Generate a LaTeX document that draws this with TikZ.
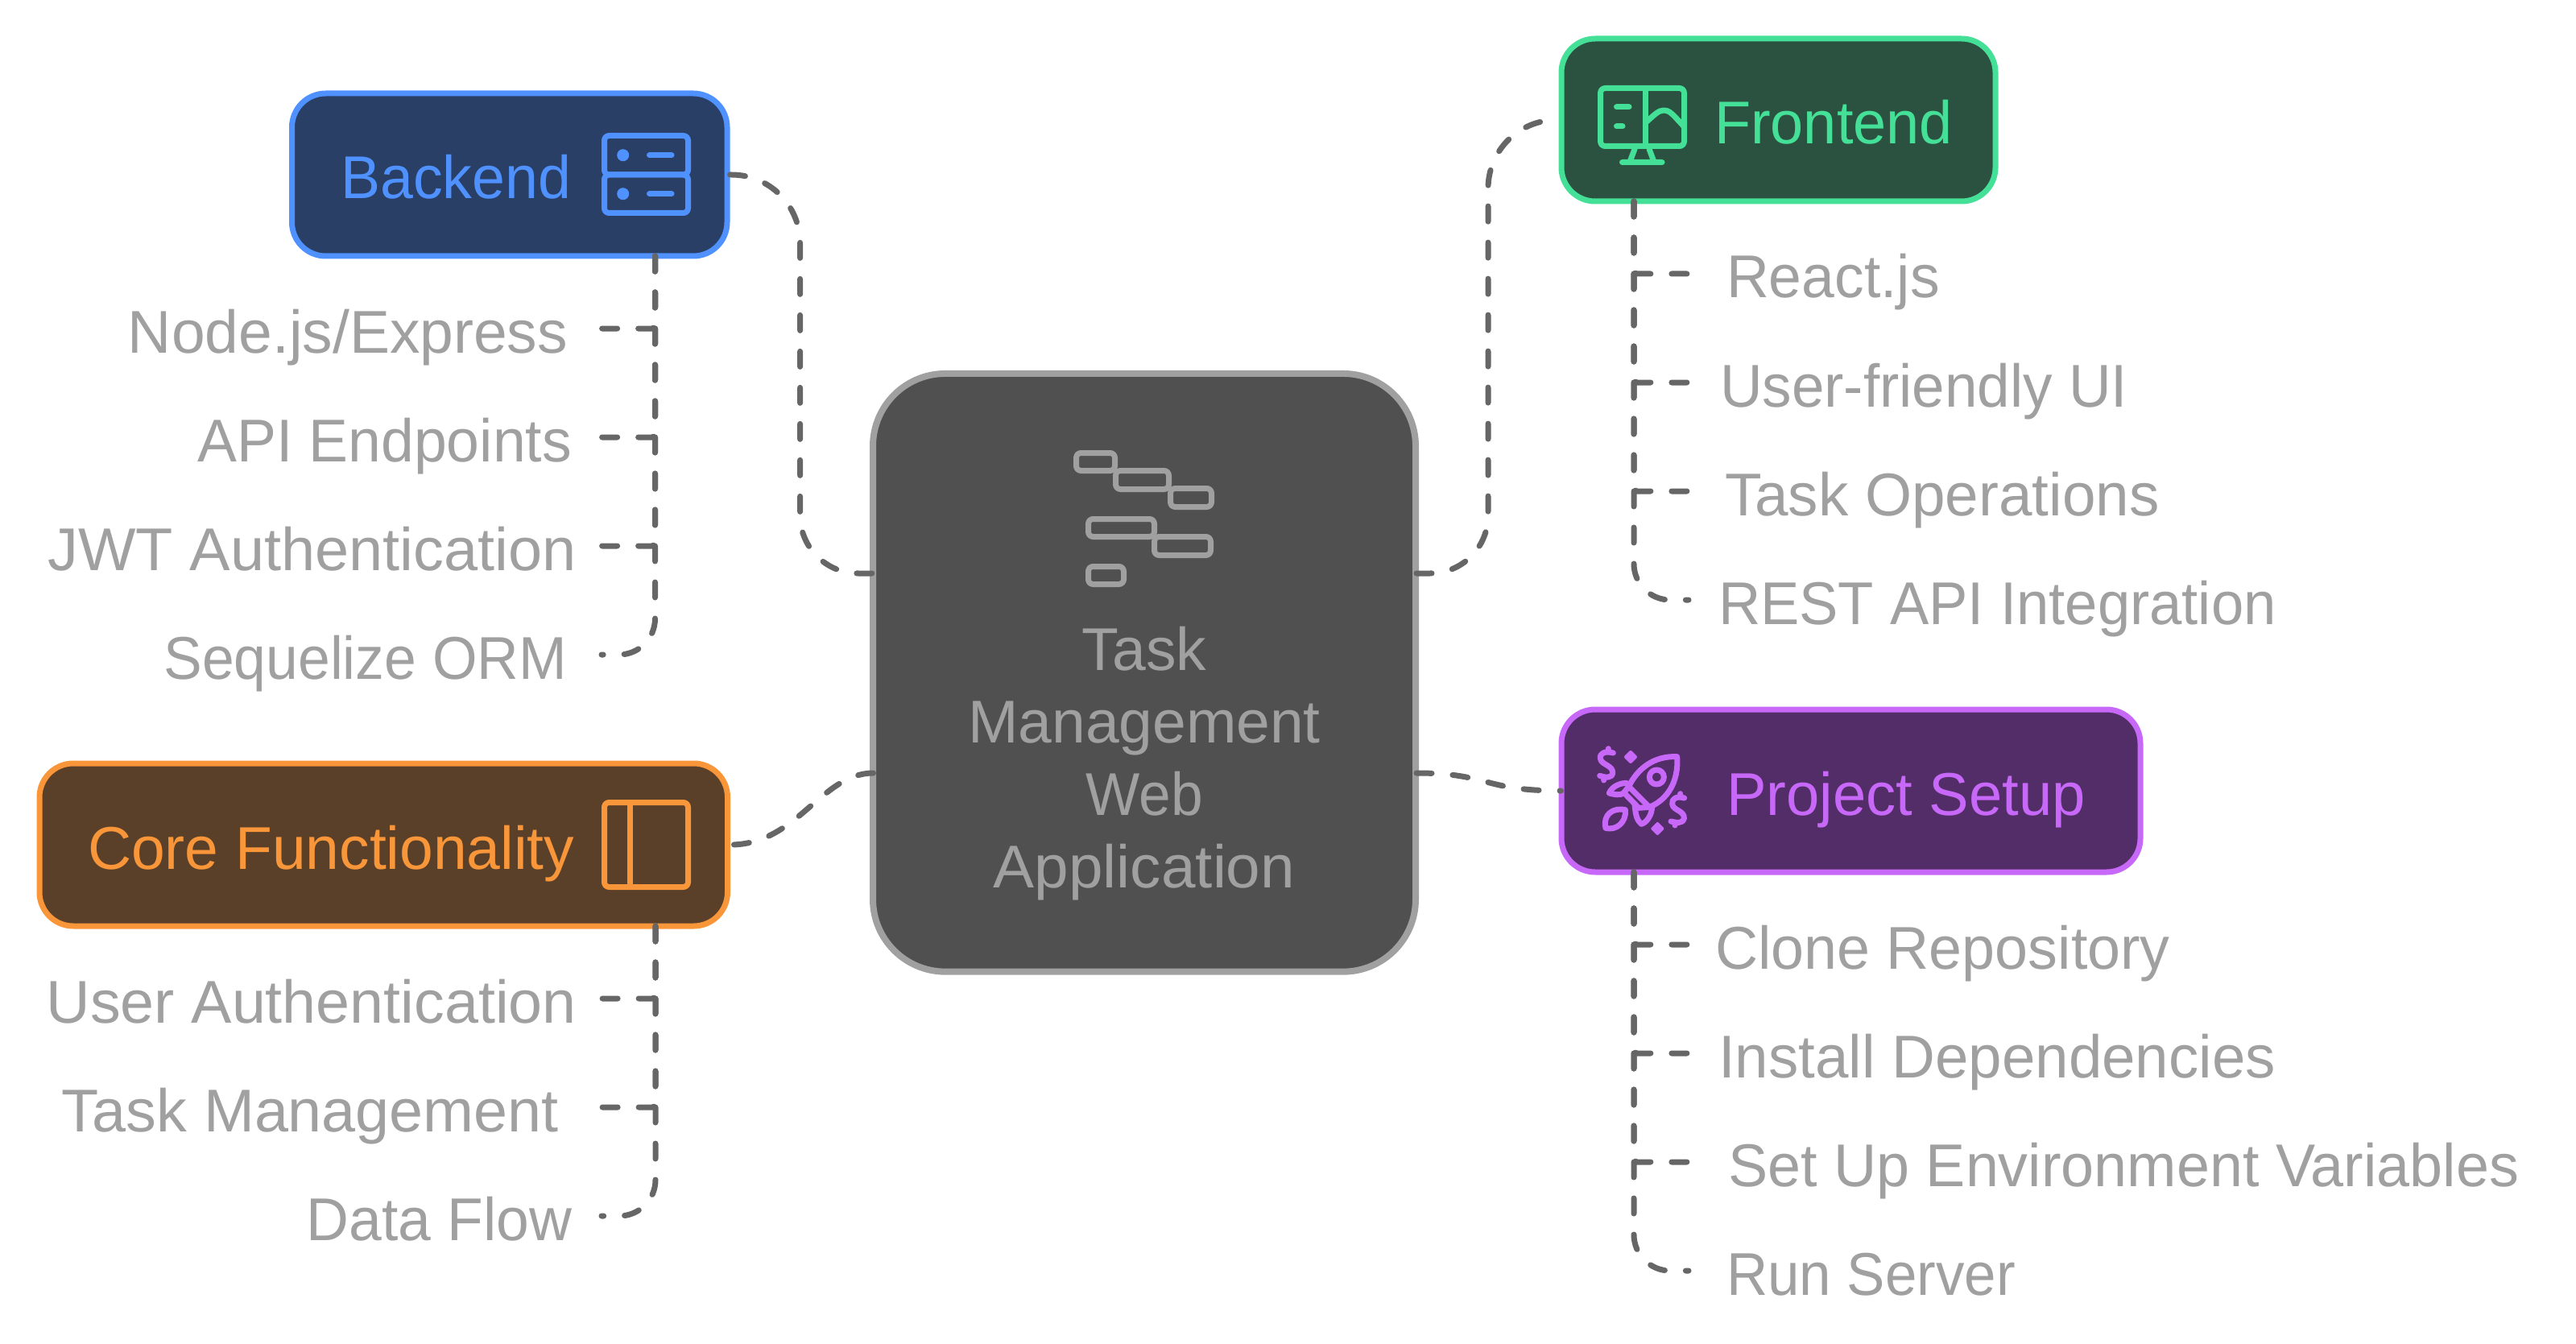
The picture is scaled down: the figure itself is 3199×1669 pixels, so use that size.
\documentclass[tikz,border=0pt]{standalone}
\usepackage{fontspec}
\setmainfont{Liberation Sans}
\usepackage{tikz}
\usepackage{graphicx}
\usetikzlibrary{positioning}

\definecolor{backline}{HTML}{4F91FF}
\definecolor{backfill}{HTML}{2A3F66}
\definecolor{frontline}{HTML}{45E097}
\definecolor{frontfill}{HTML}{2B5240}
\definecolor{setupline}{HTML}{C868F8}
\definecolor{setupfill}{HTML}{532D68}
\definecolor{coreline}{HTML}{F9963A}
\definecolor{corefill}{HTML}{5A4028}
\definecolor{midline}{HTML}{A0A0A0}
\definecolor{midfill}{HTML}{505050}
\definecolor{edgegray}{HTML}{666666}
\newcommand{\fitx}[2]{\scalebox{#1}[1]{#2}}

\begin{document}
\begin{tikzpicture}[
        x=1pt, y=-1pt,
        font=\fontsize{75}{90}\selectfont,
        box/.style 2 args={rectangle, draw=#1, fill=#2, text=#1, line width=7pt, rounded corners=42pt, inner sep=0pt, text height=75pt, text depth=15pt, minimum height=202pt},
        item/.style={text=midline, text height=75pt, text depth=15pt, inner ysep=22.5pt, inner xsep=#1, outer sep=0pt},
        edge/.style={line width=7pt, color=edgegray, line cap=round, dash pattern=on 19pt off 26pt},
        branch/.style={edge, rounded corners=4pt},
        lastbranch/.style={edge, rounded corners=45pt},
        icon/.style={line width=7pt, line cap=round, line join=round, rounded corners=6pt}
    ]
    \useasboundingbox (0,0) rectangle (3199,1669);

    % Nodes
    \node[rectangle, draw=midline, fill=midfill, text=midline, line width=8pt, inner sep=0pt, minimum width=674pt, minimum height=742.7pt, rounded corners=90pt, align=center] (center) at (1421,835.3) {\mbox{}\\[189.4pt]Task\\Management\\\fitx{.95}{Web}\\\fitx{1.02}{Application}};
    \node[box={backline}{backfill}, minimum width=540.5pt] (backend) at (632.75,217) {\fitx{.98}{Backend}\hspace*{133pt}};
    \node[box={frontline}{frontfill}, minimum width=539pt] (frontend) at (2208.5,149) {\hspace*{137pt}\fitx{.986}{Frontend}};
    \node[box={coreline}{corefill}, minimum width=854.5pt] (core) at (476.25,1049) {Core Functionality\hspace*{130pt}};
    \node[box={setupline}{setupfill}, minimum width=719pt] (setup) at (2298.5,982) {\hspace*{137pt}\fitx{.99}{Project Setup}};

    % Backend items
    \node[item=42pt, below=19pt of backend.south east, anchor=north east, xshift=-159.5pt] (nodejs) {Node.js/Express};
    \node[item=37pt, below=0pt of nodejs.south east, anchor=north east] (api) {\fitx{.978}{API Endpoints}};
    \node[item=31pt, below=0pt of api.south east, anchor=north east] (jwt) {\fitx{1.01}{JWT Authentication}};
    \node[item=43pt, below=0pt of jwt.south east, anchor=north east] (orm) {\fitx{.953}{Sequelize ORM}};

    % Core items
    \node[item=31pt, below=19pt of core.south east, anchor=north east, xshift=-160pt] (userauth) {\fitx{1.006}{User Authentication}};
    \node[item=53pt, below=0pt of userauth.south east, anchor=north east] (taskmgmt) {\fitx{1.007}{Task Management}};
    \node[item=37pt, below=0pt of taskmgmt.south east, anchor=north east] (dataflow) {\fitx{.976}{Data Flow}};

    % Frontend items
    \node[item=47pt, below=19pt of frontend.south west, anchor=north west, xshift=161.5pt] (react) {\fitx{.977}{React.js}};
    \node[item=39pt, below=0pt of react.south west, anchor=north west] (userui) {\fitx{.972}{User-friendly UI}};
    \node[item=45pt, below=0pt of userui.south west, anchor=north west] (taskops) {\fitx{.996}{Task Operations}};
    \node[item=37pt, below=0pt of taskops.south west, anchor=north west] (rest) {\fitx{.966}{REST API Integration}};

    % Setup items
    \node[item=33pt, below=19pt of setup.south west, anchor=north west, xshift=161.5pt] (clone) {\fitx{.982}{Clone Repository}};
    \node[item=37pt, below=0pt of clone.south west, anchor=north west] (install) {\fitx{.994}{Install Dependencies}};
    \node[item=49pt, below=0pt of install.south west, anchor=north west] (envvars) {\fitx{.983}{Set Up Environment Variables}};
    \node[item=47pt, below=0pt of envvars.south west, anchor=north west] (runserver) {\fitx{.946}{Run Server}};

    % Connections to the center
    \draw[edge] (backend.east) [rounded corners=85pt] -| (993.6,500) [rounded corners=72pt] |- ([xshift=4.5pt,yshift=123.3pt]center.west);
    \draw[edge] ([xshift=-3pt,yshift=123.3pt]center.east) [rounded corners=72pt] -| (1848,400) [rounded corners=85pt] |- (frontend.west);
    \draw[edge] ([xshift=4.5pt,yshift=-124.7pt]center.west) .. controls (1020,960) and (990,1049) .. (core.east);
    \draw[edge] ([xshift=-3pt,yshift=-124.7pt]center.east) .. controls (1850,960) and (1840,982) .. ([xshift=3pt]setup.west);

    % Connections to the items
    \draw[branch] ([xshift=180.75pt,yshift=3.5pt]backend.south) |- (nodejs.east);
    \draw[branch] ([xshift=180.75pt,yshift=3.5pt]backend.south) |- (api.east);
    \draw[branch] ([xshift=180.75pt,yshift=3.5pt]backend.south) |- (jwt.east);
    \draw[lastbranch] ([xshift=180.75pt,yshift=3.5pt]backend.south) |- (orm.east);

    \draw[branch] ([xshift=337.75pt,yshift=3.5pt]core.south) |- (userauth.east);
    \draw[branch] ([xshift=337.75pt,yshift=3.5pt]core.south) |- (taskmgmt.east);
    \draw[lastbranch] ([xshift=337.75pt,yshift=3.5pt]core.south) |- (dataflow.east);

    \draw[branch] ([xshift=-179.5pt,yshift=3.5pt]frontend.south) |- (react.west);
    \draw[branch] ([xshift=-179.5pt,yshift=3.5pt]frontend.south) |- (userui.west);
    \draw[branch] ([xshift=-179.5pt,yshift=3.5pt]frontend.south) |- (taskops.west);
    \draw[lastbranch] ([xshift=-179.5pt,yshift=3.5pt]frontend.south) |- (rest.west);

    \draw[branch] ([xshift=-269.5pt,yshift=3.5pt]setup.south) |- (clone.west);
    \draw[branch] ([xshift=-269.5pt,yshift=3.5pt]setup.south) |- (install.west);
    \draw[branch] ([xshift=-269.5pt,yshift=3.5pt]setup.south) |- (envvars.west);
    \draw[lastbranch] ([xshift=-269.5pt,yshift=3.5pt]setup.south) |- (runserver.west);

    % Gantt icon
    \draw[icon, midline] (1336.5,562.5) rectangle (1384.5,584.5);
    \draw[icon, midline] (1385.5,584.5) rectangle (1451.5,607.5);
    \draw[icon, midline] (1453.5,606.5) rectangle (1504.5,629.5);
    \draw[icon, midline] (1351.5,644.5) rectangle (1433.5,666.5);
    \draw[icon, midline] (1433.5,666.5) rectangle (1503.5,689.5);
    \draw[icon, midline] (1351.5,703.5) rectangle (1395.5,725.5);

    % Server icon
    \draw[icon, backline] (750.5,168.5) rectangle (854.5,217);
    \draw[icon, backline] (750.5,217) rectangle (854.5,264.5);
    \fill[backline] (773.7,192.7) circle (7.5pt) (773.7,240.7) circle (7.5pt);
    \draw[icon, backline] (806.5,192.7) -- (834,192.7) (806.5,240.7) -- (834,240.7);

    % Panel icon
    \draw[icon, coreline] (750.5,996.5) rectangle (854.5,1101.5);
    \draw[icon, coreline] (782,996.5) -- (782,1101.5);

    % Monitor icon
    \draw[icon, frontline] (1987.5,109.5) rectangle (2091.5,181.5);
    \draw[icon, frontline] (2043,109.5) -- (2043,181.5);
    \draw[icon, frontline] (2007.5,133) -- (2023,133) (2007.5,157) -- (2015,157);
    \draw[icon, frontline, rounded corners=0pt] (2045,151) .. controls (2055,142) and (2060,137) .. (2066,137) .. controls (2072,137) and (2075,140) .. (2080,145) -- (2091,157);
    \draw[icon, frontline] (2030,185) -- (2024,201) (2048,185) -- (2054,201) (2014.5,201.5) -- (2064,201.5);

    % Rocket icon
    \begin{scope}[shift={(1970,915)}, x=0.3333pt, y=-0.3333pt, line width=7pt, line cap=round, line join=round, color=setupline]
        \draw (338,74) .. controls (250,70) and (190,120) .. (158,185) -- (235,262) .. controls (300,235) and (345,170) .. (338,74) -- cycle;
        \draw (262,150) circle (27);
        \draw (158,185) -- (140,208) -- (195,265) -- (235,262);
        \draw (150,172) .. controls (125,172) and (95,185) .. (85,210) .. controls (105,215) and (125,220) .. (143,208);
        \draw (245,258) .. controls (245,290) and (225,320) .. (205,325) .. controls (190,312) and (183,295) .. (180,250);
        \draw (72,340) .. controls (60,290) and (100,262) .. (145,272) .. controls (150,320) and (110,350) .. (72,340) -- cycle;
        \draw (100,60) .. controls (70,52) and (50,60) .. (52,80) .. controls (54,105) and (100,105) .. (98,135) .. controls (96,155) and (70,152) .. (50,145);
        \draw (82,44) -- (80,56) (66,150) -- (65,162);
        \draw (365,228) .. controls (335,220) and (318,230) .. (320,250) .. controls (322,275) and (368,275) .. (364,305) .. controls (362,322) and (335,322) .. (315,315);
        \draw (350,212) -- (348,224) (331,318) -- (330,330);
        \filldraw[line width=4pt] (165,57) -- (183,75) -- (165,93) -- (147,75) -- cycle;
        \filldraw[line width=4pt] (265,324) -- (283,342) -- (265,360) -- (247,342) -- cycle;
    \end{scope}
\end{tikzpicture}
\end{document}
